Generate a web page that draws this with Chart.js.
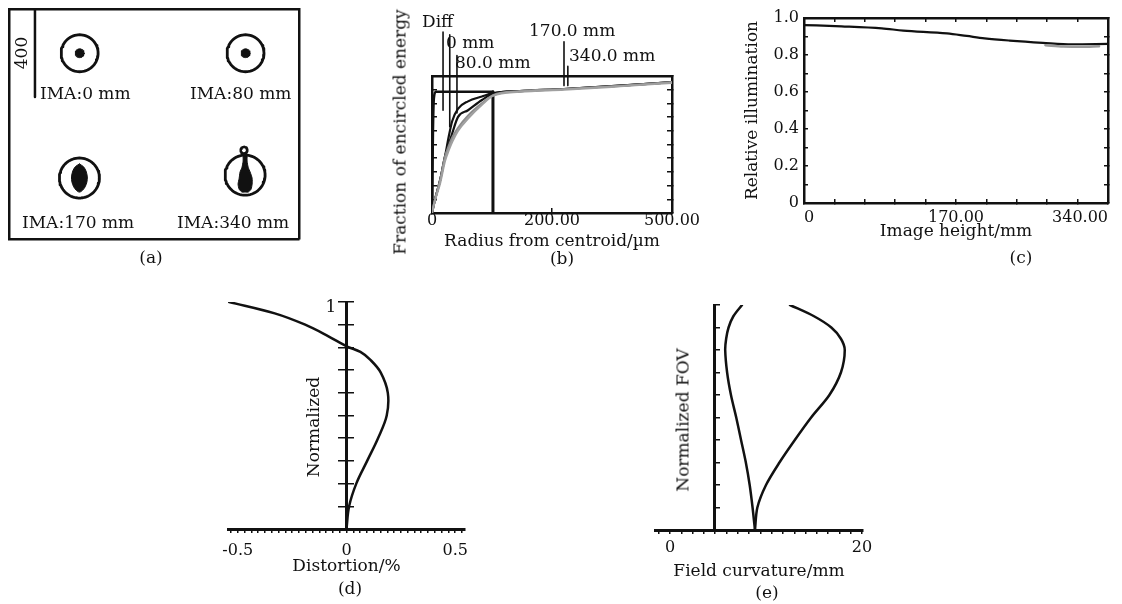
<!DOCTYPE html>
<html>
<head>
<meta charset="utf-8">
<script src="https://cdn.jsdelivr.net/npm/chart.js@4/dist/chart.umd.min.js"></script>
<style>
body { margin: 0; background: #fff; width: 1122px; height: 604px; position: relative; overflow: hidden; font-family: "DejaVu Serif", serif; color: #111; }
canvas { position: absolute; }
.t { position: absolute; font-size: 17px; line-height: 1; white-space: nowrap; }
.c { transform: translate(-50%, -50%); }
.l { transform: translateY(-50%); }
.r { transform: translate(-50%, -50%) rotate(-90deg); }
</style>
</head>
<body>
<canvas id="pa" width="310" height="250" style="left:0;top:0"></canvas>
<canvas id="pb" width="350" height="252" style="left:360px;top:0"></canvas>
<canvas id="pc" width="382" height="245" style="left:740px;top:0"></canvas>
<canvas id="pd" width="300" height="300" style="left:200px;top:280px"></canvas>
<canvas id="pe" width="300" height="300" style="left:600px;top:280px"></canvas>

<div class="t r" style="left:21px;top:53px">400</div>
<div class="t l" style="left:40px;top:93px">IMA:0 mm</div>
<div class="t l" style="left:190px;top:93px">IMA:80 mm</div>
<div class="t l" style="left:22px;top:222px">IMA:170 mm</div>
<div class="t l" style="left:177px;top:222px">IMA:340 mm</div>
<div class="t c" style="left:151px;top:257px">(a)</div>

<div class="t r" style="left:400px;top:132px">Fraction of encircled energy</div>
<div class="t l" style="left:422px;top:21px">Diff</div>
<div class="t l" style="left:446px;top:42px">0 mm</div>
<div class="t l" style="left:455px;top:62px">80.0 mm</div>
<div class="t l" style="left:529px;top:30px">170.0 mm</div>
<div class="t l" style="left:569px;top:55px">340.0 mm</div>
<div class="t c" style="left:562px;top:258px">(b)</div>

<div class="t c" style="left:1021px;top:257px">(c)</div>

<div class="t r" style="left:313px;top:427px">Normalized</div>
<div class="t c" style="left:331px;top:306px">1</div>
<div class="t c" style="left:350px;top:588px">(d)</div>

<div class="t r" style="left:683px;top:420px">Normalized FOV</div>
<div class="t c" style="left:767px;top:592px">(e)</div>

<script>
// (a) spot diagram, all in µm
const spotCenterX = [321, 1075, 320, 1073];
const spotCenterY = [201, 201, 768, 755];
const airyRadius = [84, 84, 91, 91];
const dotRadius = 20;
const spot170X = [0, 18, 30, 36, 34, 26, 14, 0, -14, -26, -34, -36, -30, -18, 0];
const spot170Y = [-64, -52, -32, -5, 18, 40, 56, 64, 56, 40, 18, -5, -32, -52, -64];
const spot340X = [-5, 5, 9, 9, 14, 23, 32, 32, 27, 14, 0, -14, -27, -32, -27, -23, -14, -9, -9, -5];
const spot340Y = [-100, -100, -88, -64, -36, -14, 14, 41, 64, 77, 77, 77, 64, 41, 14, -14, -36, -64, -88, -100];
const spot340Loop = [-5, -113, 15];
const scaleBarX = 118;
const scaleBarLength = 400;

// (b) encircled energy
const radii = [0, 6, 17, 27, 35, 42, 54, 75, 104, 127, 183, 275, 392, 500];
const energy0 = [0, 0.095, 0.24, 0.41, 0.56, 0.67, 0.76, 0.815, 0.85, 0.875, 0.89, 0.905, 0.93, 0.955];
const energy80 = [0, 0.095, 0.24, 0.41, 0.5, 0.58, 0.7, 0.75, 0.825, 0.87, 0.89, 0.905, 0.93, 0.955];
const energy170 = [0, 0.095, 0.24, 0.41, 0.49, 0.55, 0.62, 0.71, 0.8, 0.86, 0.89, 0.905, 0.928, 0.955];
const energy340 = [0, 0.09, 0.22, 0.38, 0.46, 0.52, 0.6, 0.69, 0.79, 0.855, 0.885, 0.9, 0.925, 0.95];
const diffRadii = [0, 2, 4, 8, 127];
const diffEnergy = [0, 0.6, 0.84, 0.885, 0.885];
const limitRadius = 127;
const leaderRadius = [23, 37, 52, 275, 283];
const leaderTop = [1.32, 1.3, 1.15, 1.25, 1.07];
const leaderBottom = [0.75, 0.63, 0.73, 0.93, 0.93];
const bTickValues = [0, 250, 500];
const bTickLabels = ['0', '200.00', '500.00'];

// (c) relative illumination
const heights = [0, 42, 87, 111, 160, 182, 202, 230, 267, 300, 340];
const illum = [0.962, 0.955, 0.944, 0.932, 0.917, 0.903, 0.89, 0.878, 0.866, 0.858, 0.86];
const heights2 = [270, 290, 310, 330];
const illum2 = [0.853, 0.846, 0.844, 0.847];
const cXTickValues = [0, 170, 340];
const cXTickLabels = ['0', '170.00', '340.00'];
const cYTickValues = [0, 0.2, 0.4, 0.6, 0.8, 1];
const cYTickLabels = ['0', '0.2', '0.4', '0.6', '0.8', '1.0'];

// (d) distortion
const dField = [0, 0.1, 0.2, 0.3, 0.4, 0.5, 0.6, 0.69, 0.745, 0.78, 0.805, 0.85, 0.9, 0.95, 1];
const distortion = [0, 0.012, 0.045, 0.095, 0.145, 0.185, 0.19, 0.157, 0.11, 0.064, 0, -0.085, -0.19, -0.33, -0.54];
const dTickValues = [-0.5, 0, 0.5];
const dTickLabels = ['-0.5', '0', '0.5'];
const dMinorStep = 0.03125;

// (e) field curvature
const eField = [0, 0.1, 0.2, 0.3, 0.4, 0.5, 0.6, 0.7, 0.8, 0.85, 0.9, 0.95, 1];
const curveLeft = [8.85, 8.6, 8.3, 7.9, 7.4, 6.9, 6.35, 5.95, 5.75, 5.85, 6.1, 6.6, 7.5];
const curveRight = [8.85, 9.1, 10.0, 11.4, 13.0, 14.7, 16.6, 17.8, 18.2, 17.8, 16.8, 15.0, 12.5];
const eTickValues = [0, 20];
const eTickLabels = ['0', '20'];
const eMinorStep = 20 / 17;
const eAxisAt = 4.6;

const ink = '#111';
const gray = '#8c8c8c';

Chart.defaults.font.family = '"DejaVu Serif", serif';
Chart.defaults.font.size = 16;
Chart.defaults.font.lineHeight = 1;
Chart.defaults.color = ink;
Chart.defaults.animation = false;
Chart.defaults.responsive = false;
Chart.defaults.devicePixelRatio = 1;
Chart.defaults.plugins.legend.display = false;
Chart.defaults.plugins.tooltip.enabled = false;
Chart.defaults.elements.point.radius = 0;

const titleFont = { size: 17, lineHeight: 1 };

function fit(size) {
    return s => {
        if (s.isHorizontal()) s.height = size; else s.width = size;
        s.paddingLeft = s.paddingRight = s.paddingTop = s.paddingBottom = 0;
    };
}

function labelAt(values, labels) {
    return v => {
        const i = values.findIndex(t => Math.abs(t - v) < 1e-6);
        return i < 0 ? '' : labels[i];
    };
}

function mk(axis, position, min, max, size, o = {}) {
    return {
        type: 'linear', axis: axis, position: position, min: min, max: max,
        reverse: !!o.reverse,
        afterFit: fit(size),
        afterBuildTicks: o.tickValues ? (s => { s.ticks = o.tickValues.map(v => ({ value: v })); }) : undefined,
        grid: { display: o.tick !== undefined, drawOnChartArea: false, drawTicks: true, tickLength: o.tick || 0, color: ink, lineWidth: 1.5 },
        border: { display: o.border !== false, color: ink, width: o.bw || 2.5 },
        ticks: {
            display: !!o.labels, stepSize: o.step, autoSkip: false, maxRotation: 0, minRotation: 0,
            padding: o.pad || 0, align: o.align || 'center', color: ink,
            callback: o.labels || (() => '')
        },
        title: o.title ? { display: true, text: o.title, color: ink, font: titleFont, padding: o.tpad } : { display: false }
    };
}

function line(points, extra = {}) {
    return Object.assign({
        data: points, borderColor: ink, borderWidth: 2.2, pointRadius: 0,
        fill: false, tension: 0, borderCapStyle: 'round', borderJoinStyle: 'round'
    }, extra);
}

function ring(cx, cy, r) {
    const pts = [];
    for (let i = 0; i <= 73; i++) {
        const a = i / 72 * 2 * Math.PI;
        pts.push({ x: cx + r * Math.cos(a), y: cy + r * Math.sin(a) });
    }
    return pts;
}

function zipXY(xs, ys) {
    return xs.map((x, i) => ({ x: x, y: ys[i] }));
}

function minorTicks(step, from, to) {
    const out = [];
    for (let k = from; k <= to; k++) out.push(k * step);
    return out;
}

// ---- (a)
const aSets = [];
spotCenterX.forEach((cx, i) => {
    aSets.push(line(ring(cx, spotCenterY[i], airyRadius[i]), { borderWidth: 2.8 }));
});
[0, 1].forEach(i => {
    aSets.push(line(ring(spotCenterX[i], spotCenterY[i], dotRadius), { fill: 'shape', backgroundColor: ink, borderWidth: 1 }));
});
aSets.push(line(spot170X.map((dx, k) => ({ x: spotCenterX[2] + dx, y: spotCenterY[2] + spot170Y[k] })),
    { fill: 'shape', backgroundColor: ink, borderWidth: 1, tension: 0.3 }));
aSets.push(line(spot340X.map((dx, k) => ({ x: spotCenterX[3] + dx, y: spotCenterY[3] + spot340Y[k] })),
    { fill: 'shape', backgroundColor: ink, borderWidth: 1, tension: 0.2 }));
aSets.push(line(ring(spotCenterX[3] + spot340Loop[0], spotCenterY[3] + spot340Loop[1], spot340Loop[2]), { borderWidth: 2.5 }));
aSets.push(line([{ x: scaleBarX, y: 0 }, { x: scaleBarX, y: scaleBarLength }], { borderWidth: 2.5, borderCapStyle: 'butt' }));

new Chart(document.getElementById('pa'), {
    type: 'line',
    data: { datasets: aSets },
    options: {
        layout: { padding: { left: 9, top: 9, right: 11, bottom: 11 } },
        scales: {
            x: mk('x', 'bottom', 0, 1318, 0),
            y: mk('y', 'left', 0, 1045, 0, { reverse: true }),
            x2: mk('x', 'top', 0, 1318, 0),
            y2: mk('y', 'right', 0, 1045, 0, { reverse: true })
        }
    }
});

// ---- (b)
const bSets = [
    line(zipXY(radii, energy340), { borderColor: '#a0a0a0', cubicInterpolationMode: 'monotone' }),
    line(zipXY(radii, energy170), { borderColor: gray, cubicInterpolationMode: 'monotone' }),
    line(zipXY(radii, energy80), { cubicInterpolationMode: 'monotone' }),
    line(zipXY(radii, energy0), { cubicInterpolationMode: 'monotone' }),
    line(zipXY(diffRadii, diffEnergy), { borderWidth: 2.5, cubicInterpolationMode: 'monotone' }),
    line([{ x: limitRadius, y: diffEnergy[diffEnergy.length - 1] }, { x: limitRadius, y: 0 }], { borderWidth: 3, borderCapStyle: 'butt' })
];
leaderRadius.forEach((r, i) => {
    bSets.push(line([{ x: r, y: leaderTop[i] }, { x: r, y: leaderBottom[i] }], { borderWidth: 1.6, clip: false, borderCapStyle: 'butt' }));
});

new Chart(document.getElementById('pb'), {
    type: 'line',
    data: { datasets: bSets },
    options: {
        layout: { padding: { left: 0, top: 76, right: 38, bottom: 0 } },
        scales: {
            x: mk('x', 'bottom', 0, 500, 39, {
                tick: -5, step: 250, pad: 5, labels: labelAt(bTickValues, bTickLabels),
                title: 'Radius from centroid/µm', tpad: { top: 0, bottom: 2 }
            }),
            y: mk('y', 'left', 0, 1, 72, { tick: -5, step: 0.1 }),
            x2: mk('x', 'top', 0, 500, 0),
            y2: mk('y', 'right', 0, 1, 0, { tick: -5, step: 0.1 })
        }
    }
});

// ---- (c)
new Chart(document.getElementById('pc'), {
    type: 'line',
    data: {
        datasets: [
            line(zipXY(heights2, illum2), { borderColor: '#9a9a9a', borderWidth: 2.5, cubicInterpolationMode: 'monotone' }),
            line(zipXY(heights, illum), { borderWidth: 2.2, cubicInterpolationMode: 'monotone' })
        ]
    },
    options: {
        layout: { padding: { left: 0, top: 18, right: 14, bottom: 0 } },
        scales: {
            x: mk('x', 'bottom', 0, 340, 42, {
                tick: -4, step: 34, pad: 11, align: 'inner', labels: labelAt(cXTickValues, cXTickLabels),
                title: 'Image height/mm', tpad: { top: 0, bottom: 5 }
            }),
            y: mk('y', 'left', 0, 1, 64, {
                tick: -4, step: 0.1, pad: 9, labels: labelAt(cYTickValues, cYTickLabels),
                title: 'Relative illumination', tpad: { top: 4, bottom: 0 }
            }),
            x2: mk('x', 'top', 0, 340, 0, { tick: -4, step: 34 }),
            y2: mk('y', 'right', 0, 1, 0, { tick: -4, step: 0.1 })
        }
    }
});

// ---- (d)
new Chart(document.getElementById('pd'), {
    type: 'line',
    data: { datasets: [line(zipXY(distortion, dField), { borderWidth: 2.5, tension: 0.35 })] },
    options: {
        layout: { padding: { left: 28, top: 22, right: 35, bottom: 0 } },
        scales: {
            x: mk('x', 'bottom', -0.545, 0.545, 51, {
                tick: 4, bw: 3, pad: 10, tickValues: minorTicks(dMinorStep, -17, 17),
                labels: labelAt(dTickValues, dTickLabels),
                title: 'Distortion/%', tpad: { top: 0, bottom: 5 }
            }),
            y: mk('y', { x: 0 }, 0, 1, 0, { tick: 7, step: 0.1, bw: 3 }),
            y2: mk('y', { x: 0 }, 0, 1, 0, { tick: -7, step: 0.1, border: false })
        }
    }
});

// ---- (e)
new Chart(document.getElementById('pe'), {
    type: 'line',
    data: {
        datasets: [
            line(zipXY(curveLeft, eField), { borderWidth: 2.5, tension: 0.3 }),
            line(zipXY(curveRight, eField), { borderWidth: 2.5, tension: 0.3 })
        ]
    },
    options: {
        layout: { padding: { left: 55, top: 25, right: 37, bottom: 0 } },
        scales: {
            x: mk('x', 'bottom', -1.56, 20.1, 50, {
                tick: 4, bw: 3, pad: 6, tickValues: minorTicks(eMinorStep, -1, 17),
                labels: labelAt(eTickValues, eTickLabels),
                title: 'Field curvature/mm', tpad: { top: 0, bottom: 0 }
            }),
            y: mk('y', { x: eAxisAt }, 0, 1, 0, { tick: -7, step: 0.1, bw: 3 })
        }
    }
});
</script>
</body>
</html>
